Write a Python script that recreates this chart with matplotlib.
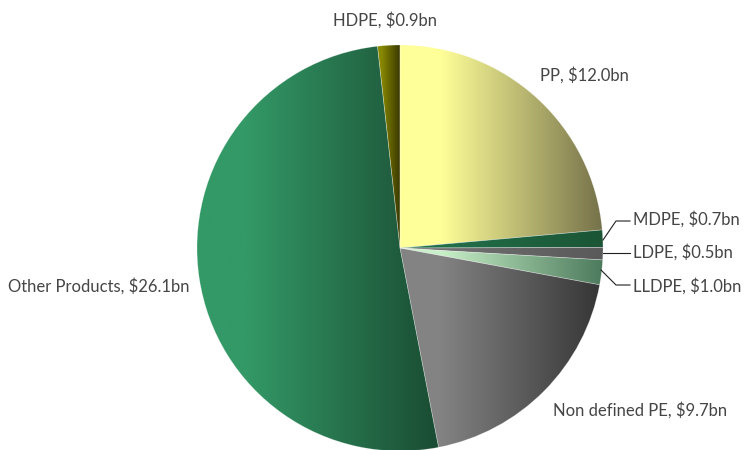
import numpy as np
import matplotlib
matplotlib.use("Agg")
import matplotlib.pyplot as plt
from matplotlib.colors import LinearSegmentedColormap

# market value by product, $bn (clockwise from 12 o'clock)
products = ["PP", "MDPE", "LDPE", "LLDPE", "Non defined PE", "Other Products", "HDPE"]
values = [12.0, 0.7, 0.5, 1.0, 9.7, 26.1, 0.9]

# light (left) and dark (right) ends of each slice's gradient
light = ["#FFFF99", "#22704A", "#707070", "#C8F0C8", "#838383", "#339966", "#888800"]
dark = ["#75714A", "#1B5535", "#5A5A5A", "#4C7A5C", "#363636", "#1A4C33", "#3A3A00"]

plt.rcParams['font.family'] = ['Lato', 'DejaVu Sans']

fig = plt.figure(figsize=(7.45, 4.5), dpi=100)
ax = fig.add_axes([0, 0, 1, 1])

wedges, _ = ax.pie(values, startangle=90, counterclock=False,
                   center=(400, 202), radius=203, frame=True,
                   wedgeprops=dict(linewidth=0))

ramp = np.linspace(0, 1, 256)[None, :]
for w, c0, c1 in zip(wedges, light, dark):
    w.set_facecolor('none')
    ext = w.get_path().get_extents()
    cmap = LinearSegmentedColormap.from_list('g', [(0, c0), (0.2, c0), (1, c1)])
    im = ax.imshow(ramp, cmap=cmap, aspect='auto', interpolation='bilinear',
                   extent=(ext.x0, ext.x1, ext.y0, ext.y1), zorder=1)
    im.set_clip_path(w)
    w.set_edgecolor((1, 1, 1, 0.3))
    w.set_linewidth(0.5)
    w.set_zorder(2)

ax.set_xlim(0, 745)
ax.set_ylim(0, 450)
ax.set_aspect('equal')
ax.axis('off')

lbl = dict(fontsize=12, color='#454545', fontweight='normal', va='center')
ax.text(385, 430, "HDPE, $0.9bn", ha='center', **lbl)
ax.text(540, 375, "PP, $12.0bn", ha='left', **lbl)
ax.text(633, 231, "MDPE, $0.7bn", ha='left', **lbl)
ax.text(633, 198, "LDPE, $0.5bn", ha='left', **lbl)
ax.text(633, 164, "LLDPE, $1.0bn", ha='left', **lbl)
ax.text(8, 164, "Other Products, $26.1bn", ha='left', **lbl)
ax.text(553, 40, "Non defined PE, $9.7bn", ha='left', **lbl)

# leader lines for the thin slices
lk = dict(color='#202020', lw=0.8, zorder=3)
ax.plot([603, 616, 630], [210, 229, 229], **lk)
ax.plot([603, 630], [197, 197], **lk)
ax.plot([601, 616, 630], [180, 165, 165], **lk)

fig.savefig("out.png", dpi=100, facecolor='white')
